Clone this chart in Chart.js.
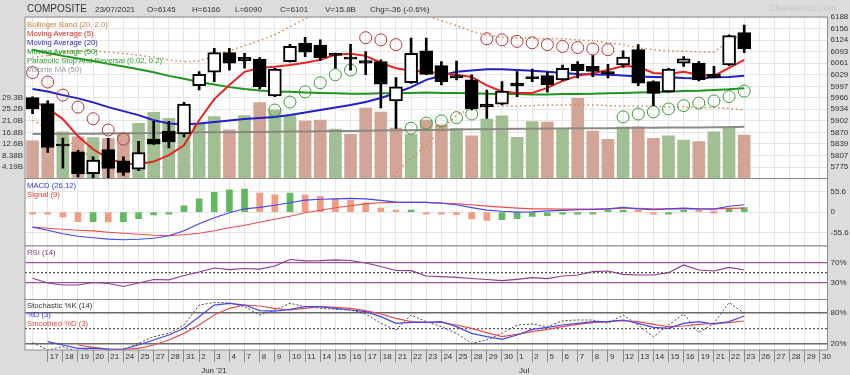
<!DOCTYPE html>
<html>
<head>
<meta charset="utf-8">
<script src="https://cdn.jsdelivr.net/npm/chart.js@4.4.0/dist/chart.umd.min.js"></script>
<style>
  html, body { margin: 0; padding: 0; background: #dcdcdc; }
  #wrap { position: relative; width: 850px; height: 375px; overflow: hidden;
          font-family: "Liberation Sans", Arial, sans-serif; }
  #wrap canvas { position: absolute; left: 0; top: 0; }
  .t { position: absolute; white-space: nowrap; font-size: 7.7px; line-height: 9px; z-index: 5; }
</style>
</head>
<body>
<div id="wrap">
  <canvas id="cMain" width="850" height="375"></canvas>
  <canvas id="cMacd" width="850" height="375"></canvas>
  <canvas id="cRsi" width="850" height="375"></canvas>
  <canvas id="cStoch" width="850" height="375"></canvas>

  <div class="t" style="left:27px;top:3px;font-size:10px;line-height:12px;color:#333">COMPOSITE</div>
  <div class="t" style="left:95px;top:5px;font-size:8px;color:#333">23/07/2021</div>
  <div class="t" style="left:147px;top:5px;font-size:8px;color:#333">O=6145</div>
  <div class="t" style="left:192px;top:5px;font-size:8px;color:#333">H=6166</div>
  <div class="t" style="left:235px;top:5px;font-size:8px;color:#333">L=6090</div>
  <div class="t" style="left:280px;top:5px;font-size:8px;color:#333">C=6101</div>
  <div class="t" style="left:325px;top:5px;font-size:8px;color:#333">V=15.8B</div>
  <div class="t" style="left:370px;top:5px;font-size:8px;color:#333">Chg=-36 (-0.6%)</div>
  <div class="t" style="left:769px;top:4px;font-size:9px;color:#c6c6c6">ChartNexus.com</div>

  <div class="t" style="left:27px;top:19.5px;color:#c8823c">Bollinger Band (20, 2.0)</div>
  <div class="t" style="left:27px;top:28.5px;color:#e8231e">Moving Average (5)</div>
  <div class="t" style="left:27px;top:37.5px;color:#2828c8">Moving Average (20)</div>
  <div class="t" style="left:27px;top:46.5px;color:#1e961e">Moving Average (50)</div>
  <div class="t" style="left:27px;top:55.5px;color:#2e9a2e">Parabolic Stop And Reversal (0.02, 0.2)</div>
  <div class="t" style="left:27px;top:64.5px;color:#999">Volume MA (50)</div>

  <div class="t" style="left:27px;top:180.5px;color:#3232d2">MACD (26,12)</div>
  <div class="t" style="left:27px;top:189.5px;color:#e03c3c">Signal (9)</div>

  <div class="t" style="left:27px;top:247.5px;color:#7a3c7a">RSI (14)</div>

  <div class="t" style="left:27px;top:300.5px;color:#333">Stochastic %K (14)</div>
  <div class="t" style="left:27px;top:309.5px;color:#3c3cd8">%D (3)</div>
  <div class="t" style="left:27px;top:318.5px;color:#e04646">Smoothed %D (3)</div>
</div>

<script>
// trading days shown on the axis (14 May .. 30 Jul 2021)
const DAYS = ['14','17','18','19','20','21','24','25','27','28','31',
  '2','3','4','7','8','9','10','11','14','15','16','17','18','21','22','23','24','25','28','29','30',
  '1','2','5','6','7','8','9','12','13','14','15','16','19','21','22','23','26','27','28','29','30'];
const MONTH_INDEX = [11, 32];
const MONTH_NAME = ["Jun '21", 'Jul'];

const OPEN  = [5966,5950,5834,5817,5757,5823,5792,5769,5852,5874,5866,5999,6036,6090,6077,6072,5971,6065,6116,6111,6088,6078,6068,6065,5957,6007,6095,6054,6027,6015,5948,5948,6006,6024,6027,6015,6058,6052,6038,6056,6098,6010,5982,6061,6061,6031,6056,6145];
const HIGH  = [5968,5957,5855,5821,5803,5854,5803,5846,5901,5901,5953,6038,6102,6102,6088,6076,6047,6113,6132,6125,6089,6113,6093,6070,6021,6130,6130,6065,6067,6029,5987,6010,6038,6045,6036,6056,6065,6082,6058,6095,6112,6012,6047,6079,6065,6052,6139,6166];
const LOW   = [5922,5815,5772,5748,5744,5744,5752,5765,5837,5828,5858,5987,6010,6042,6047,5990,5969,6064,6079,6068,6047,6042,6029,5938,5881,6005,6029,6001,6015,5932,5909,5946,5969,6010,5981,6013,6020,6024,6020,6049,5999,5944,5981,6052,6012,6020,6054,6090];
const CLOSE = [5935,5829,5833,5757,5794,5771,5760,5815,5838,5844,5948,6030,6090,6061,6067,5996,6045,6107,6091,6076,6082,6072,6061,6003,5996,6088,6030,6010,6020,5935,5941,5984,5998,6018,6001,6047,6040,6038,6032,6078,6006,5978,6045,6073,6015,6021,6137,6101];
const PREV_CLOSE = 5950;

// volume in billions
const VOLUME = [13.7,15.1,17.0,15.2,14.9,14.6,16.1,20.1,24.1,21.9,18.9,20.1,22.5,17.7,22.9,27.6,25.0,22.9,20.9,21.3,18.0,16.1,25.6,24.2,18.4,16.1,21.3,19.5,18.3,15.5,21.6,22.8,15.0,20.7,20.5,17.8,29.2,17.3,14.3,18.8,18.8,14.6,15.5,14.0,13.4,17.0,18.9,15.8];
const VOLUME_MA50 = [16.2,16.2,16.3,16.3,16.3,16.4,16.5,16.5,16.6,16.6,16.7,16.8,16.8,16.8,16.9,16.9,17.0,17.1,17.1,17.2,17.3,17.3,17.4,17.5,17.6,17.6,17.7,17.7,17.8,17.9,17.9,18.0,18.1,18.1,18.2,18.2,18.3,18.3,18.3,18.4,18.5,18.5,18.6,18.6,18.6,18.7,18.7,18.8];

const MA5  = [5957,5937,5907,5860,5824,5799,5785,5783,5790,5808,5835,5904,5962,6001,6037,6048,6051,6056,6062,6070,6084,6087,6081,6062,6047,6040,6037,6033,6029,6023,6000,5983,5979,5979,5993,6012,6026,6033,6042,6053,6051,6034,6031,6037,6029,6026,6048,6070];
const MA20 = [5990,5983,5973,5964,5953,5940,5929,5918,5904,5895,5893,5895,5899,5903,5907,5910,5913,5918,5925,5932,5939,5946,5954,5965,5979,5995,6015,6027,6037,6041,6044,6044,6042,6040,6037,6034,6031,6030,6029,6027,6024,6023,6022,6020,6019,6022,6023,6026];
const MA50 = [6098,6089,6081,6074,6067,6059,6052,6044,6036,6026,6018,6009,6002,5995,5990,5986,5983,5982,5980,5979,5978,5977,5977,5978,5978,5979,5980,5979,5979,5978,5977,5976,5976,5975,5975,5976,5976,5977,5978,5979,5980,5981,5982,5984,5985,5987,5989,5992];
const BB_UPPER = [6076,6083,6090,6095,6094,6092,6088,6083,6077,6070,6065,6067,6081,6095,6109,6123,6139,6161,6183,6205,6222,6232,6236,6230,6198,6191,6192,6178,6164,6149,6138,6132,6131,6129,6128,6128,6125,6123,6117,6112,6103,6098,6095,6094,6092,6092,6120,6145];
const BB_LOWER = [5904,5882,5860,5827,5799,5774,5752,5725,5712,5706,5703,5705,5709,5712,5706,5697,5688,5676,5668,5660,5656,5660,5672,5700,5760,5799,5835,5877,5918,5937,5941,5942,5943,5944,5946,5946,5946,5946,5944,5943,5943,5942,5940,5940,5939,5939,5936,5932];
const PSAR = [6035,6009,5973,5940,5908,5877,5852,null,null,null,null,null,null,null,null,null,5932,5954,5982,6007,6029,6042,6131,6125,6112,5882,5896,5902,5911,5921,6128,6125,6121,6117,6112,6107,6104,6100,6098,5913,5921,5927,5935,5944,5951,5957,5969,5984];

const MACD_LINE = [-41.1,-49.8,-59.4,-66.3,-70.4,-74,-75.9,-74.5,-71.8,-64.9,-51.2,-32,-15.6,-1.9,9,13.1,18.6,25.5,32.9,35.1,36.4,37.8,36.4,32.3,27.4,26.8,26.3,24.1,20,12.3,5.5,2.2,0,0.8,3,4.4,6.3,7.1,8.5,12.6,9,6.3,9,11,9,8.2,15.9,20];
const MACD_SIGNAL = [-41.1,-44.4,-47.1,-49.8,-51.8,-55.3,-58.1,-60.8,-63.5,-64.9,-62.2,-58.1,-51.2,-43,-36.2,-27.9,-19.7,-11.5,-1.9,4.9,11.8,17.3,22.7,25.5,26.8,26.8,26.3,24.7,22.7,20,16.4,13.7,11,9,8.5,8.2,8.2,8.2,9,10.4,10.4,9,9,9,9,9,9.9,11];
const MACD_HIST = [-1,-3,-13,-26,-26,-27,-26.5,-18,-7.5,-2,17,36,54,61,63,52,47,52,47,43,36,32,25,11,2,3.5,-1,-5.5,-7,-19,-23,-21,-18,-12,-10,-4,-1.5,-1,1,3,0.5,-3,-2,1,0.5,0,9,12];

const RSI14 = [38.8,29.4,25.4,25.4,30.4,28.4,22.4,29.4,36.4,35.8,44.4,51.4,59.4,56,58.4,57,63.4,76.4,73.8,74,75.8,74.4,69.4,62.4,54.4,54,43.4,42,40.8,38.4,36.4,34,36.8,40,38,43.4,45.4,52,53.4,46.8,45.4,45.4,50,65.4,55.4,53.4,60.8,55.4];

const STOCH_K  = [22.5,8.5,14.9,5.3,13.6,9.8,8.5,21.3,34,40.4,56.4,94.7,99.5,99,91.5,75.6,85.2,98,91.5,88.4,86.4,85.2,77.5,59.6,46.8,75.6,62.8,53.2,40.4,21.3,27.7,40.4,56.4,58.3,53.2,64.7,66,66,59.6,75.6,56.4,34,56.4,77.5,41.7,59.6,99.5,78.8];
const STOCH_D  = [null,24.5,18.1,11.7,11.7,9.8,10.4,18.1,27.7,37.2,50,72.4,94.7,97.9,94.7,83.9,83.2,86.4,91.5,91.5,88.4,85.2,82,72.4,59.6,61.5,61.5,62.8,53.2,40.4,34,28.9,37.2,48.1,51.9,56.4,59.6,62.8,62.8,66,59.6,51.9,50,59.6,62.8,58.3,62.8,73.7];
const STOCH_SD = [null,null,null,18.1,13.6,10.4,9.8,11.7,18.1,27.7,40.4,56.4,75.6,88.4,94.7,92.8,88.4,85.2,88.4,91.5,90.3,88.4,83.9,77.5,69.2,62.8,61.5,61.5,56.4,50,41.7,34,38.5,43.6,48.1,53.2,57.7,60.9,62.8,64.7,62.8,57.7,53.2,54.5,57.7,59.6,60.9,64.1];

// axis ticks
const PRICE_TICKS = [6188,6156,6124,6093,6061,6029,5997,5966,5934,5902,5870,5839,5807,5775];
const VOLUME_TICKS = [4.19,8.38,12.6,16.8,21.0,25.2,29.3];
const VOLUME_LABELS = ['4.19B','8.38B','12.6B','16.8B','21.0B','25.2B','29.3B'];
const MACD_TICKS = [-55.6,0,55.6];
const MACD_LABELS = ['-55.6','0','55.6'];
const RSI_TICKS = [30,50,70];
const RSI_LABELS = ['30%','','70%'];
const STOCH_TICKS = [20,50,80];
const STOCH_LABELS = ['20%','','80%'];

Chart.defaults.font.family = '"Liberation Sans", Arial, sans-serif';
Chart.defaults.font.size = 8;
Chart.defaults.color = '#333';

const GRID = '#e6e6e6';
const TICK_FONT = { size: 8 };

const panel = {
  id: 'panel',
  beforeDraw(chart) {
    const { ctx, chartArea: a } = chart;
    ctx.save();
    ctx.fillStyle = '#ffffff';
    ctx.fillRect(a.left, a.top, a.right - a.left, a.bottom - a.top);
    ctx.restore();
  },
  afterDraw(chart) {
    const { ctx, chartArea: a } = chart;
    ctx.save();
    ctx.strokeStyle = '#8c8c8c';
    ctx.lineWidth = 1;
    ctx.strokeRect(a.left, a.top, a.right - a.left, a.bottom - a.top);
    ctx.restore();
  }
};

function xScale(withLabels) {
  return {
    type: 'category',
    offset: true,
    grid: {
      offset: false, color: GRID, drawTicks: withLabels, tickLength: 12,
      tickColor: (c) => c.index === 0 ? 'rgba(0,0,0,0)' : '#8a8a8a'
    },
    border: { display: false },
    ticks: withLabels ? {
      autoSkip: false, maxRotation: 0, minRotation: 0, align: 'start',
      labelOffset: 2, padding: -12, color: '#333',
      font: { size: 8, lineHeight: 1.75 },
      callback(value, index) {
        if (index === 0) return '';
        const m = MONTH_INDEX.indexOf(index);
        return m >= 0 ? [DAYS[index], MONTH_NAME[m]] : DAYS[index];
      }
    } : { display: false },
    afterFit(s) { s.height = withLabels ? 25 : 0; }
  };
}

function rightScale(min, max, values, labels, gridOpts) {
  return {
    position: 'right', min: min, max: max, bounds: 'data',
    afterBuildTicks(s) { s.ticks = values.map(v => ({ value: v })); },
    afterFit(s) { s.width = 22.5; },
    grid: Object.assign({ color: GRID, drawTicks: false }, gridOpts || {}),
    border: { display: false },
    ticks: { padding: 3, font: TICK_FONT, color: '#333', autoSkip: false,
             callback: (v, i) => labels[i] }
  };
}

const baseOptions = (padding, scales) => ({
  responsive: false, animation: false, devicePixelRatio: 1,
  layout: { padding: padding },
  plugins: { legend: { display: false }, tooltip: { enabled: false } },
  scales: scales
});

// ---------- price + volume panel ----------
const bodyColors = CLOSE.map((c, i) => c >= OPEN[i] ? '#ffffff' : '#000000');
const volColors = CLOSE.map((c, i) => c >= (i ? CLOSE[i - 1] : PREV_CLOSE) ? '#a2bf93' : '#d3a596');
const sarColors = PSAR.map((s, i) => s !== null && s > CLOSE[i] ? '#b23a3a' : '#3a9b3a');

new Chart(document.getElementById('cMain'), {
  data: {
    labels: DAYS,
    datasets: [
      { type: 'bar', data: OPEN.map((o, i) => [o, CLOSE[i]]), yAxisID: 'y',
        backgroundColor: bodyColors, borderColor: '#000', borderWidth: 2, borderSkipped: false,
        barThickness: 13, grouped: false, minBarLength: 2, order: 0 },
      { type: 'bar', data: LOW.map((l, i) => [l, HIGH[i]]), yAxisID: 'y',
        backgroundColor: '#000', barThickness: 2, grouped: false, order: 1 },
      { type: 'line', data: PSAR, yAxisID: 'y', showLine: false, pointStyle: 'circle',
        pointRadius: 6, pointBorderWidth: 1, pointBackgroundColor: 'rgba(0,0,0,0)',
        pointBorderColor: sarColors, order: 2 },
      { type: 'line', data: MA5, yAxisID: 'y', borderColor: '#e8231e', borderWidth: 2, pointRadius: 0, order: 3 },
      { type: 'line', data: MA20, yAxisID: 'y', borderColor: '#2020c8', borderWidth: 2, pointRadius: 0, order: 4 },
      { type: 'line', data: MA50, yAxisID: 'y', borderColor: '#1e961e', borderWidth: 2, pointRadius: 0, order: 5 },
      { type: 'line', data: BB_UPPER, yAxisID: 'y', borderColor: '#c98a4e', borderWidth: 1.5, borderDash: [1.5, 3], pointRadius: 0, order: 6 },
      { type: 'line', data: BB_LOWER, yAxisID: 'y', borderColor: '#c98a4e', borderWidth: 1.5, borderDash: [1.5, 3], pointRadius: 0, order: 6 },
      { type: 'line', data: VOLUME_MA50, yAxisID: 'yv', borderColor: '#8a8a82', borderWidth: 2, pointRadius: 0, order: 7 },
      { type: 'bar', data: VOLUME, yAxisID: 'yv', backgroundColor: volColors, barThickness: 12, grouped: false, order: 8 }
    ]
  },
  options: baseOptions({ top: 17, bottom: 196.5, left: 0, right: 0 }, {
    x: xScale(false),
    y: rightScale(5743.5, 6188, PRICE_TICKS, PRICE_TICKS.map(String)),
    yv: {
      position: 'left', min: 0, max: 58.8, bounds: 'data',
      afterBuildTicks(s) { s.ticks = VOLUME_TICKS.map(v => ({ value: v })); },
      afterFit(s) { s.width = 25; },
      grid: { drawOnChartArea: false, drawTicks: false },
      border: { display: false },
      ticks: { padding: 2, font: TICK_FONT, color: '#333', autoSkip: false,
               callback: (v, i) => VOLUME_LABELS[i] }
    }
  }),
  plugins: [panel]
});

// ---------- MACD panel ----------
const histColors = MACD_HIST.map((h, i) => h >= (i ? MACD_HIST[i - 1] : 0) ? '#62b962' : '#f09d84');
new Chart(document.getElementById('cMacd'), {
  data: {
    labels: DAYS,
    datasets: [
      { type: 'line', data: MACD_LINE, borderColor: '#4646ee', borderWidth: 1.2, pointRadius: 0, order: 0 },
      { type: 'line', data: MACD_SIGNAL, borderColor: '#ee4c4c', borderWidth: 1.2, pointRadius: 0, order: 1 },
      { type: 'bar', data: MACD_HIST, backgroundColor: histColors, barThickness: 6, minBarLength: 2, grouped: false, order: 2 }
    ]
  },
  options: baseOptions({ top: 178.5, bottom: 129, left: 25, right: 0 }, {
    x: xScale(false),
    y: rightScale(-93, 92, MACD_TICKS, MACD_LABELS)
  }),
  plugins: [panel]
});

// ---------- RSI panel ----------
new Chart(document.getElementById('cRsi'), {
  type: 'line',
  data: {
    labels: DAYS,
    datasets: [
      { data: RSI14, borderColor: '#8a3f8a', borderWidth: 1.2, pointRadius: 0 }
    ]
  },
  options: baseOptions({ top: 246, bottom: 75.5, left: 25, right: 0 }, {
    x: xScale(false),
    y: Object.assign(rightScale(-3.6, 103.4, RSI_TICKS, RSI_LABELS, {
      color: (c) => c.tick && c.tick.value === 50 ? '#555555' : '#a0559a',
      lineWidth: 1.3
    }), {
      border: { display: false, dash: (c) => c.tick && c.tick.value === 50 ? [2, 2] : [] }
    })
  }),
  plugins: [panel]
});

// ---------- Stochastic panel ----------
new Chart(document.getElementById('cStoch'), {
  type: 'line',
  data: {
    labels: DAYS,
    datasets: [
      { data: STOCH_D, borderColor: '#4646e6', borderWidth: 1.2, pointRadius: 0, order: 0 },
      { data: STOCH_SD, borderColor: '#e85050', borderWidth: 1.2, pointRadius: 0, order: 1 },
      { data: STOCH_K, borderColor: '#444', borderWidth: 1, borderDash: [2, 2], pointRadius: 0, order: 2 }
    ]
  },
  options: baseOptions({ top: 299.5, bottom: 0, left: 25, right: 0 }, {
    x: xScale(true),
    y: Object.assign(rightScale(8.5, 105.3, STOCH_TICKS, STOCH_LABELS, {
      color: (c) => c.tick && c.tick.value === 50 ? '#555555' : '#6a6a6a',
      lineWidth: (c) => c.tick && c.tick.value === 50 ? 1.2 : 1.5
    }), {
      border: { display: false, dash: (c) => c.tick && c.tick.value === 50 ? [2, 2] : [] }
    })
  }),
  plugins: [panel]
});
</script>
</body>
</html>
